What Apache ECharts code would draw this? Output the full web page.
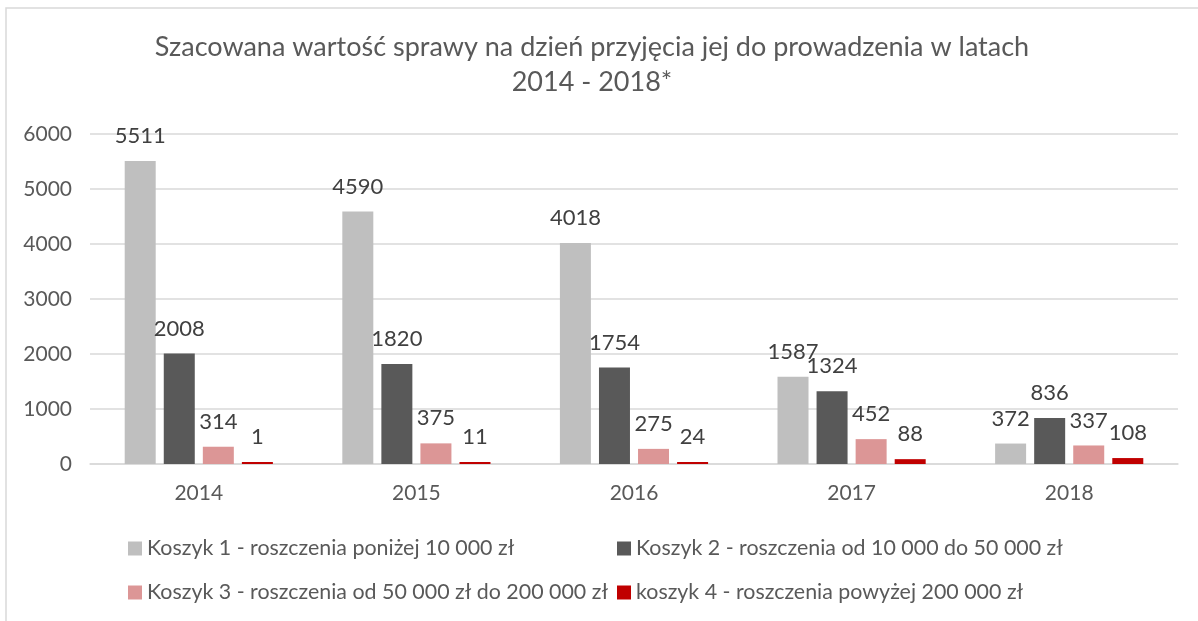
<!DOCTYPE html>
<html>
<head>
<meta charset="utf-8">
<script src="https://cdn.jsdelivr.net/npm/echarts@6/dist/echarts.min.js"></script>
<style>
  html, body { margin: 0; padding: 0; background: #fff; }
  #main { width: 1198px; height: 621px; }
</style>
</head>
<body>
<div id="main"></div>
<script>
var years = ["2014", "2015", "2016", "2017", "2018"];
var koszyk1 = [5511, 4590, 4018, 1587, 372];
var koszyk2 = [2008, 1820, 1754, 1324, 836];
var koszyk3 = [314, 375, 275, 452, 337];
var koszyk4 = [1, 11, 24, 88, 108];
var yTicks = [0, 1000, 2000, 3000, 4000, 5000, 6000];

var names = [
  "Koszyk 1 - roszczenia poniżej 10 000 zł",
  "Koszyk 2 - roszczenia od 10 000 do 50 000 zł",
  "Koszyk 3 - roszczenia od 50 000 zł do 200 000 zł",
  "koszyk 4 - roszczenia powyżej 200 000 zł"
];
var colors = ["#bfbfbf", "#595959", "#dc9696", "#c00000"];
var font = "Lato, 'Noto Sans', sans-serif";

var myChart = echarts.init(document.getElementById("main"));

function legendAt(name, left, top) {
  return {
    data: [name],
    left: left,
    top: top,
    itemWidth: 14,
    itemHeight: 14,
    itemGap: 6,
    icon: "rect",
    textStyle: { color: "#595959", fontSize: 21.4, fontFamily: font }
  };
}

var series = [koszyk1, koszyk2, koszyk3, koszyk4].map(function(vals, i) {
  return {
    name: names[i],
    type: "bar",
    data: vals,
    barWidth: 31,
    barGap: "26%",
    barMinHeight: 2,
    itemStyle: { color: colors[i] },
    label: {
      show: true,
      position: "top",
      distance: 14,
      color: "#404040",
      fontSize: 22,
      fontFamily: font
    }
  };
});

myChart.setOption({
  backgroundColor: "#fff",
  animation: false,
  graphic: [{
    type: "rect",
    shape: { x: 6, y: 8, width: 1300, height: 700 },
    style: { fill: "none", stroke: "#d9d9d9", lineWidth: 1.5 },
    silent: true
  }],
  title: {
    text: "Szacowana wartość sprawy na dzień przyjęcia jej do prowadzenia w latach\n2014 - 2018*",
    left: 587,
    textAlign: "center",
    top: 25,
    textStyle: {
      color: "#595959",
      fontSize: 27,
      fontWeight: "normal",
      fontFamily: font,
      lineHeight: 35
    }
  },
  legend: [
    legendAt(names[0], 123, 533),
    legendAt(names[1], 612, 533),
    legendAt(names[2], 123, 577),
    legendAt(names[3], 612, 577)
  ],
  grid: { left: 90, right: 20, top: 134, bottom: 157 },
  xAxis: {
    type: "category",
    data: years,
    axisLine: { lineStyle: { color: "#d9d9d9", width: 1.5 } },
    axisTick: { show: false },
    axisLabel: { color: "#595959", fontSize: 21, fontFamily: font, margin: 19 }
  },
  yAxis: {
    type: "value",
    min: yTicks[0],
    max: yTicks[yTicks.length - 1],
    interval: 1000,
    axisLine: { show: false },
    axisTick: { show: false },
    splitLine: { lineStyle: { color: "#d9d9d9", width: 1.5 } },
    axisLabel: {
      color: "#595959",
      fontSize: 21,
      fontFamily: font,
      margin: 18,
      formatter: function(v) { return String(v); }
    }
  },
  series: series
});
</script>
</body>
</html>
